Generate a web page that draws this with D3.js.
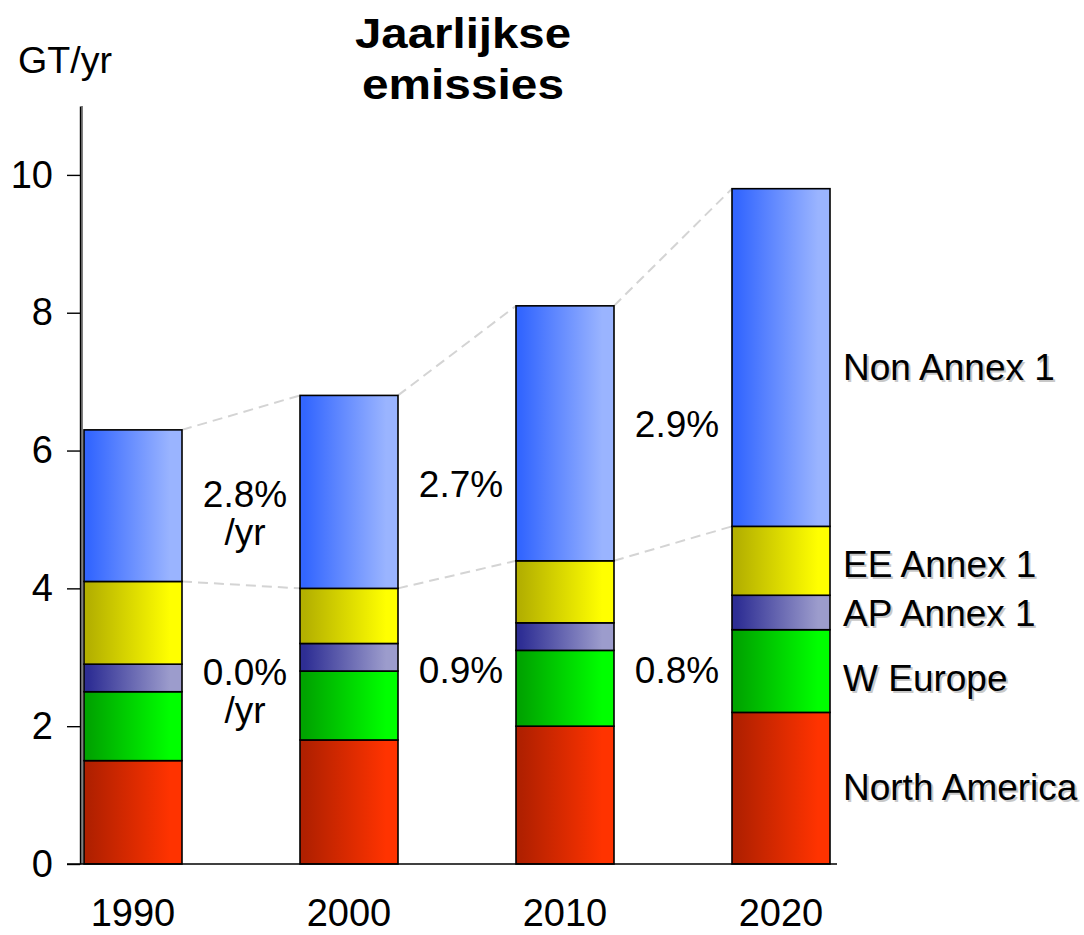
<!DOCTYPE html>
<html>
<head>
<meta charset="utf-8">
<script src="https://cdn.jsdelivr.net/npm/d3@7"></script>
<style>
	body { margin: 0; background: #fff; }
	svg { display: block; font-family: "Liberation Sans", Arial, sans-serif; }
</style>
</head>
<body>
<div id="chart"></div>
<script>
// Data (GT/yr)
var years = ["1990", "2000", "2010", "2020"];
var series = ["North America", "W Europe", "AP Annex 1", "EE Annex 1", "Non Annex 1"];
var northAmerica = [1.5, 1.8, 2.0, 2.2];
var wEurope = [1.0, 1.0, 1.1, 1.2];
var apAnnex1 = [0.4, 0.4, 0.4, 0.5];
var eeAnnex1 = [1.2, 0.8, 0.9, 1.0];
var nonAnnex1 = [2.2, 2.8, 3.7, 4.9];
var yTicks = [0, 2, 4, 6, 8, 10];
// growth rates: [upper (non annex), lower (annex 1)] between consecutive years
var growthUpper = [["2.8%", "/yr"], ["2.7%"], ["2.9%"]];
var growthLower = [["0.0%", "/yr"], ["0.9%"], ["0.8%"]];

var gradients = [
	["#b02000", "#ff3300"],
	["#00a400", "#00ff00"],
	["#2e2e94", "#9c9ccc"],
	["#b4b000", "#ffff00"],
	["#3366ff", "#9ab4ff"]
];

var width = 1084, height = 935;
var barW = 98;

var svg = d3.select("#chart").append("svg")
	.attr("width", width)
	.attr("height", height);

var defs = svg.append("defs");
gradients.forEach(function(g, i){
	var lg = defs.append("linearGradient")
		.attr("id", "grad" + i)
		.attr("x1", "0%").attr("x2", "100%")
		.attr("y1", "0%").attr("y2", "0%");
	lg.append("stop").attr("offset", "5%").attr("stop-color", g[0]);
	lg.append("stop").attr("offset", "88%").attr("stop-color", g[1]);
});

var y = d3.scaleLinear().domain([0, 11]).range([864, 106]);
var x = d3.scalePoint().domain(years).range([133, 781]);

// stack the values
var table = years.map(function(yr, i){
	return {year: yr, 0: northAmerica[i], 1: wEurope[i], 2: apAnnex1[i], 3: eeAnnex1[i], 4: nonAnnex1[i]};
});
var stacked = d3.stack().keys([0, 1, 2, 3, 4])(table);

// dashed connector lines (Annex 1 total and overall total)
[3, 4].forEach(function(k){
	var layer = stacked[k];
	for (var i = 0; i < years.length - 1; i++) {
		svg.append("line")
			.attr("x1", x(years[i]) + barW/2)
			.attr("y1", y(layer[i][1]))
			.attr("x2", x(years[i+1]) - barW/2)
			.attr("y2", y(layer[i+1][1]))
			.attr("stroke", "#d4d4d4")
			.attr("stroke-width", 2)
			.attr("stroke-dasharray", "10,6");
	}
});

// bars
stacked.forEach(function(layer, k){
	svg.append("g").selectAll("rect")
		.data(layer)
		.join("rect")
		.attr("x", function(d){ return x(d.data.year) - barW/2; })
		.attr("y", function(d){ return y(d[1]); })
		.attr("width", barW)
		.attr("height", function(d){ return y(d[0]) - y(d[1]); })
		.attr("fill", "url(#grad" + k + ")")
		.attr("stroke", "#000")
		.attr("stroke-width", 1.6);
});

// y axis
var yAxis = d3.axisLeft(y).tickValues(yTicks).tickSize(13).tickSizeOuter(0).tickPadding(14);
var gy = svg.append("g").attr("transform", "translate(80,0)").call(yAxis);
gy.select(".domain").attr("stroke", "#000").attr("stroke-width", 1.4);
gy.selectAll(".tick line").attr("stroke", "#000").attr("stroke-width", 1.4);
gy.selectAll(".tick text")
	.attr("font-size", 38)
	.attr("fill", "#000")
	.attr("font-family", "Liberation Sans, Arial, sans-serif");
svg.append("line")
	.attr("x1", 82).attr("x2", 82)
	.attr("y1", y(11)).attr("y2", y(0))
	.attr("stroke", "#000").attr("stroke-width", 1);

// baseline
svg.append("line")
	.attr("x1", 67).attr("x2", 837)
	.attr("y1", y(0)).attr("y2", y(0))
	.attr("stroke", "#000").attr("stroke-width", 1.6);

// year labels
svg.append("g").selectAll("text")
	.data(years)
	.join("text")
	.attr("x", function(d){ return x(d); })
	.attr("y", 926)
	.attr("text-anchor", "middle")
	.attr("font-size", 38)
	.text(function(d){ return d; });

// unit and title
svg.append("text").attr("x", 18).attr("y", 73).attr("font-size", 37)
	.attr("textLength", 94).attr("lengthAdjust", "spacingAndGlyphs").text("GT/yr");
svg.append("text").attr("x", 463).attr("y", 48)
	.attr("text-anchor", "middle").attr("font-size", 43).attr("font-weight", "bold")
	.attr("textLength", 216).attr("lengthAdjust", "spacingAndGlyphs")
	.text("Jaarlijkse");
svg.append("text").attr("x", 463).attr("y", 99)
	.attr("text-anchor", "middle").attr("font-size", 43).attr("font-weight", "bold")
	.attr("textLength", 202).attr("lengthAdjust", "spacingAndGlyphs")
	.text("emissies");

// growth rate labels between bars
var upperBase = [507, 497, 437];
var lowerBase = [685, 683, 683];
function addGrowth(lines, cx, base){
	lines.forEach(function(t, j){
		svg.append("text")
			.attr("x", cx).attr("y", base + j*38)
			.attr("text-anchor", "middle")
			.attr("font-size", 37)
			.text(t);
	});
}
for (var i = 0; i < years.length - 1; i++) {
	var cx = (x(years[i]) + x(years[i+1])) / 2 + 4;
	addGrowth(growthUpper[i], cx, upperBase[i]);
	addGrowth(growthLower[i], cx, lowerBase[i]);
}

// series labels at the right of last bar, with light shadow
var labelBase = [800, 691, 626, 577, 380];
series.forEach(function(s, k){
	svg.append("text").attr("x", 845).attr("y", labelBase[k] + 2)
		.attr("font-size", 37).attr("fill", "#c8c8c8").text(s);
	svg.append("text").attr("x", 843).attr("y", labelBase[k])
		.attr("font-size", 37).attr("fill", "#000").text(s);
});
</script>
</body>
</html>
